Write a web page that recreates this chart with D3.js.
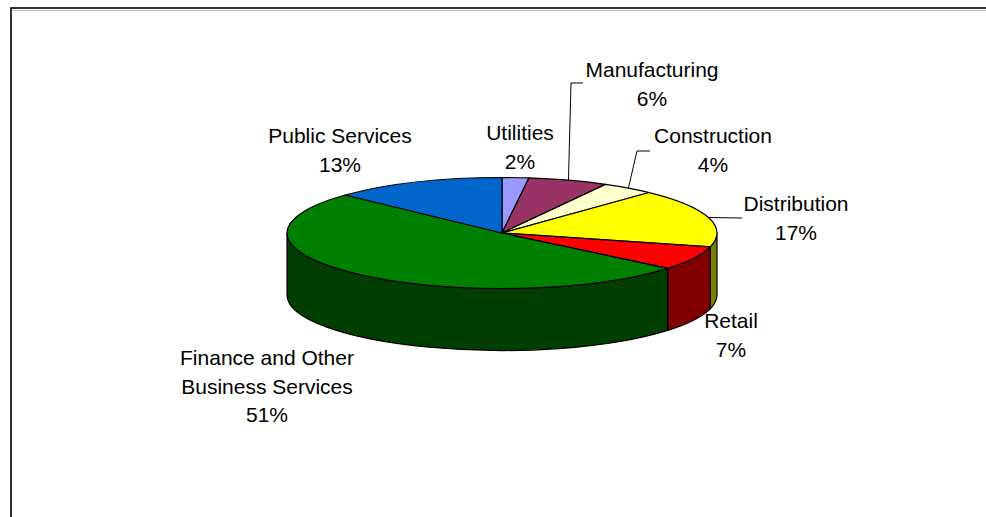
<!DOCTYPE html>
<html>
<head>
<meta charset="utf-8">
<script src="https://cdn.jsdelivr.net/npm/d3@7"></script>
<style>
  html, body { margin: 0; padding: 0; background: #fff; }
  svg { display: block; }
  text { font-family: "Liberation Sans", Arial, sans-serif; font-size: 21px; fill: #000; }
</style>
</head>
<body>
<svg id="chart" width="986" height="517"></svg>
<script>
// Sector shares of output (%)
const categories = ["Utilities", "Manufacturing", "Construction", "Distribution", "Retail",
                    "Finance and Other Business Services", "Public Services"];
const values = [2, 6, 4, 17, 7, 51, 13];
// Label text, split over lines
const labelLines = [["Utilities"], ["Manufacturing"], ["Construction"], ["Distribution"], ["Retail"],
                    ["Finance and Other", "Business Services"], ["Public Services"]];
const topColors  = ["#9999FF", "#993366", "#FFFFCC", "#FFFF00", "#FF0000", "#008000", "#0066CC"];
const sideColors = ["#4C4C80", "#4C1933", "#808066", "#808000", "#800000", "#003F00", "#003366"];

// Geometry of the tilted pie
const cx = 502, cy = 233, rx = 215, ry = 55.5, depth = 62;
// Label anchors (centre x, first baseline y) and optional leader elbows
const labelLayout = [
  { x: 520, y: 140 },
  { x: 652, y: 77,  elbow: [[571, 83], [583, 83]] },
  { x: 713, y: 143, elbow: [[637, 151], [650, 151]] },
  { x: 796, y: 211, elbow: [[742, 218]] },
  { x: 731, y: 328 },
  { x: 267, y: 365 },
  { x: 340, y: 143 }
];
const lineHeight = 28.5;

const svg = d3.select("#chart");

// Outer frame
svg.append("rect")
  .attr("x", 11).attr("y", 8).attr("width", 1000).attr("height", 540)
  .attr("fill", "none").attr("stroke", "#000").attr("stroke-width", 1.6);
svg.append("line")
  .attr("x1", 12).attr("x2", 986).attr("y1", 10.5).attr("y2", 10.5)
  .attr("stroke", "#bbb").attr("stroke-width", 1);

const total = d3.sum(values);
const pie = d3.pie().sort(null).value(d => d).startAngle(0).endAngle(2 * Math.PI);
const arcs = pie(values);

// Point on the top ellipse for a clockwise angle measured from 12 o'clock
const pt = (a, dy = 0) => [cx + rx * Math.sin(a), cy - ry * Math.cos(a) + dy];

function topPath(a0, a1) {
  const p0 = pt(a0), p1 = pt(a1);
  const large = (a1 - a0) > Math.PI ? 1 : 0;
  return `M${cx},${cy}L${p0[0]},${p0[1]}A${rx},${ry} 0 ${large} 1 ${p1[0]},${p1[1]}Z`;
}

function sidePath(a0, a1) {
  const b0 = Math.max(a0, Math.PI / 2), b1 = Math.min(a1, 3 * Math.PI / 2);
  if (b1 <= b0) return null;
  const p0 = pt(b0), p1 = pt(b1), q0 = pt(b0, depth), q1 = pt(b1, depth);
  const large = (b1 - b0) > Math.PI ? 1 : 0;
  return `M${p0[0]},${p0[1]}A${rx},${ry} 0 ${large} 1 ${p1[0]},${p1[1]}` +
         `L${q1[0]},${q1[1]}A${rx},${ry} 0 ${large} 0 ${q0[0]},${q0[1]}Z`;
}

const g = svg.append("g");

// Front walls
g.selectAll("path.side")
  .data(arcs.filter(d => sidePath(d.startAngle, d.endAngle)))
  .join("path")
  .attr("class", "side")
  .attr("d", d => sidePath(d.startAngle, d.endAngle))
  .attr("fill", d => sideColors[d.index])
  .attr("stroke", "#000").attr("stroke-width", 1.2).attr("stroke-linejoin", "round");

// Top faces
g.selectAll("path.top")
  .data(arcs)
  .join("path")
  .attr("class", "top")
  .attr("d", d => topPath(d.startAngle, d.endAngle))
  .attr("fill", d => topColors[d.index])
  .attr("stroke", "#000").attr("stroke-width", 1.2).attr("stroke-linejoin", "round");

// Leader lines
arcs.forEach(d => {
  const lay = labelLayout[d.index];
  if (!lay.elbow) return;
  const start = pt((d.startAngle + d.endAngle) / 2);
  svg.append("path")
    .attr("d", d3.line()([start, ...lay.elbow]))
    .attr("fill", "none").attr("stroke", "#000").attr("stroke-width", 1);
});

// Labels
const fmt = d3.format(".0%");
arcs.forEach(d => {
  const lay = labelLayout[d.index];
  const lines = [...labelLines[d.index], fmt(d.value / total)];
  const t = svg.append("text").attr("text-anchor", "middle");
  lines.forEach((s, i) => {
    t.append("tspan").attr("x", lay.x).attr("y", lay.y + i * lineHeight).text(s);
  });
});
</script>
</body>
</html>
